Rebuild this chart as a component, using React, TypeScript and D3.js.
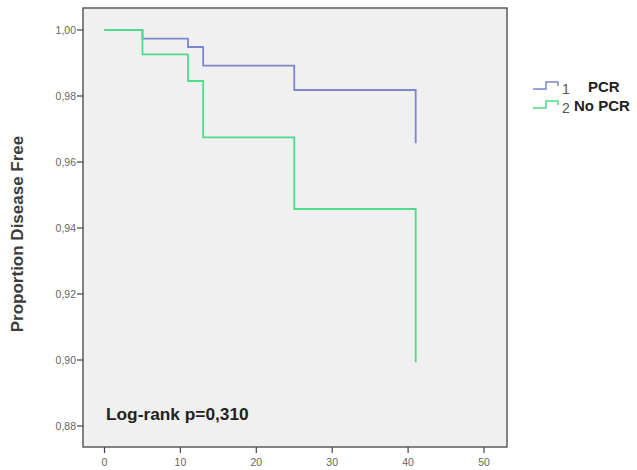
import React from "react";
import * as d3 from "d3";

const xTicks = [0, 10, 20, 30, 40, 50];
const yTicks = [0.88, 0.9, 0.92, 0.94, 0.96, 0.98, 1.0];

const pcrTimes = [0, 5, 11, 13, 25, 41, 41];
const pcrSurv = [1.0, 0.99736, 0.99485, 0.98918, 0.98182, 0.98182, 0.96566];

const noPcrTimes = [0, 5, 11, 13, 25, 41, 41];
const noPcrSurv = [1.0, 0.99264, 0.98455, 0.96748, 0.94576, 0.94576, 0.8993];

const legendKeys = ["1", "2"];
const legendLabels = ["PCR", "No PCR"];
const colors = ["#7b86cc", "#4fdc8a"];

const W = 637;
const H = 470;
const frame = { left: 83, right: 507, top: 8, bottom: 447 };

export default function App() {
  const x = d3.scaleLinear().domain([0, 50]).range([104.5, 484]);
  const y = d3.scaleLinear().domain([0.88, 1.0]).range([426, 30]);

  const stepLine = d3
    .line<[number, number]>()
    .x((d) => x(d[0]))
    .y((d) => y(d[1]))
    .curve(d3.curveStepAfter);

  const series = [
    pcrTimes.map((t, i) => [t, pcrSurv[i]] as [number, number]),
    noPcrTimes.map((t, i) => [t, noPcrSurv[i]] as [number, number]),
  ];

  const font = "'Liberation Sans', Arial, sans-serif";

  return (
    <svg
      width={W}
      height={H}
      style={{ position: "absolute", left: 0, top: 0, background: "#ffffff" }}
    >
      <rect
        x={frame.left}
        y={frame.top}
        width={frame.right - frame.left}
        height={frame.bottom - frame.top}
        fill="#f0f0f0"
        stroke="#444"
        strokeWidth={1.3}
      />
      {series.map((s, i) => (
        <path
          key={i}
          d={stepLine(s) || ""}
          fill="none"
          stroke={colors[i]}
          strokeWidth={1.8}
        />
      ))}
      {yTicks.map((v) => (
        <g key={v}>
          <line
            x1={frame.left - 6}
            x2={frame.left}
            y1={y(v)}
            y2={y(v)}
            stroke="#444"
            strokeWidth={1.2}
          />
          <text
            x={frame.left - 7}
            y={y(v)}
            dy="0.35em"
            textAnchor="end"
            fontFamily={font}
            fontSize={10.5}
            fill="#666"
          >
            {d3.format(".2f")(v).replace(".", ",")}
          </text>
        </g>
      ))}
      {xTicks.map((v) => (
        <g key={v}>
          <line
            x1={x(v)}
            x2={x(v)}
            y1={frame.bottom}
            y2={frame.bottom + 6}
            stroke="#444"
            strokeWidth={1.2}
          />
          <text
            x={x(v)}
            y={frame.bottom + 19}
            textAnchor="middle"
            fontFamily={font}
            fontSize={10.5}
            fill="#666"
          >
            {v}
          </text>
        </g>
      ))}
      <text
        transform={`translate(23,234) rotate(-90)`}
        textAnchor="middle"
        fontFamily={font}
        fontSize={17}
        fontWeight="bold"
        fill="#3c3c3c"
      >
        Proportion Disease Free
      </text>
      <text
        x={106}
        y={420}
        fontFamily={font}
        fontSize={17.3}
        fontWeight="bold"
        fill="#222"
      >
        Log-rank p=0,310
      </text>
      {legendKeys.map((k, i) => {
        const ly = 89 + i * 19;
        const lx = 533;
        return (
          <g key={k}>
            <path
              d={`M${lx},${ly} H${lx + 13} V${ly - 7} H${lx + 25} V${ly - 3}`}
              fill="none"
              stroke={colors[i]}
              strokeWidth={1.5}
            />
            <text
              x={lx + 29}
              y={ly + 5}
              fontFamily={font}
              fontSize={14}
              fill="#555"
            >
              {k}
            </text>
            <text
              x={i === 0 ? 588 : 574}
              y={ly + 3}
              fontFamily={font}
              fontSize={15}
              fontWeight="bold"
              fill="#222"
            >
              {legendLabels[i]}
            </text>
          </g>
        );
      })}
    </svg>
  );
}
